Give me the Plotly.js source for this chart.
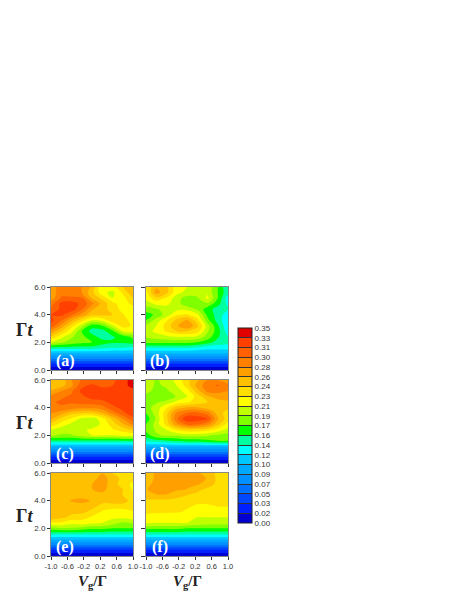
<!DOCTYPE html>
<html><head><meta charset="utf-8">
<script src="https://cdn.plot.ly/plotly-3.0.1.min.js"></script>
<style>html,body{margin:0;padding:0;background:#fff}</style></head>
<body><div id="chart" style="width:463px;height:599px"></div>
<script>
const xVals=[-1,-0.75,-0.5,-0.25,0,0.25,0.5,0.75,1];
const tVals=[0,0.4,0.8,1.2,1.6,2.0,2.4,2.8,3.2,3.6,4.0,4.4,4.8,5.2,5.6,6.0];
const low0=[.002,.002,.002,.002,.002,.002,.002,.002,.002];
const low1=[.03,.03,.03,.03,.03,.03,.03,.03,.03];
const low2=[.07,.07,.07,.07,.07,.07,.07,.07,.07];
const low3=[.105,.105,.105,.105,.105,.105,.105,.105,.105];
// rows listed from the top of each panel (t = 6.0) down to t = 1.6
const panelA=[
[.27,.29,.29,.28,.26,.21,.22,.245,.26],
[.27,.29,.29,.28,.25,.215,.205,.23,.26],
[.27,.30,.30,.30,.26,.24,.21,.22,.245],
[.29,.32,.325,.31,.285,.255,.235,.215,.235],
[.30,.32,.325,.30,.265,.25,.24,.22,.215],
[.315,.32,.30,.275,.25,.25,.245,.23,.21],
[.32,.30,.265,.235,.21,.215,.24,.235,.22],
[.31,.275,.235,.20,.165,.175,.205,.235,.225],
[.275,.245,.215,.175,.15,.15,.17,.21,.215],
[.245,.215,.195,.18,.165,.15,.155,.165,.18],
[.21,.195,.185,.18,.175,.165,.16,.16,.165],
[.15,.15,.15,.15,.15,.145,.14,.14,.135]];
const panelB=[
[.23,.26,.25,.215,.21,.205,.205,.175,.14],
[.22,.27,.25,.215,.205,.20,.205,.175,.145],
[.215,.24,.225,.20,.185,.19,.215,.175,.13],
[.20,.215,.215,.20,.18,.175,.19,.165,.135],
[.185,.19,.20,.205,.205,.19,.165,.15,.14],
[.165,.18,.20,.225,.23,.215,.17,.15,.13],
[.175,.20,.225,.25,.265,.235,.18,.15,.125],
[.195,.21,.235,.26,.28,.25,.20,.16,.125],
[.20,.215,.23,.245,.245,.235,.195,.165,.13],
[.195,.20,.205,.21,.21,.205,.185,.16,.14],
[.18,.18,.18,.18,.18,.175,.165,.15,.145],
[.14,.14,.14,.14,.14,.135,.13,.13,.13]];
const panelC=[
[.25,.25,.28,.30,.30,.30,.31,.325,.34],
[.25,.255,.275,.31,.32,.31,.315,.325,.34],
[.265,.28,.295,.32,.325,.325,.32,.32,.325],
[.285,.295,.30,.31,.325,.325,.325,.325,.325],
[.295,.30,.30,.305,.305,.31,.32,.325,.325],
[.295,.295,.29,.285,.285,.29,.31,.32,.325],
[.28,.27,.25,.245,.245,.26,.285,.31,.325],
[.265,.24,.225,.205,.20,.22,.25,.28,.31],
[.24,.22,.205,.195,.195,.215,.235,.26,.285],
[.21,.20,.205,.205,.215,.225,.225,.235,.25],
[.195,.19,.19,.20,.21,.21,.21,.215,.215],
[.155,.155,.155,.155,.155,.155,.155,.155,.155]];
const panelD=[
[.205,.19,.20,.215,.24,.26,.28,.28,.27],
[.20,.19,.195,.21,.235,.27,.29,.30,.285],
[.195,.19,.19,.20,.22,.255,.285,.285,.28],
[.19,.185,.175,.195,.21,.235,.26,.27,.27],
[.19,.19,.20,.215,.225,.235,.245,.255,.26],
[.185,.20,.225,.255,.265,.265,.255,.25,.25],
[.175,.20,.24,.285,.30,.305,.29,.255,.235],
[.165,.195,.24,.295,.33,.325,.315,.265,.235],
[.175,.20,.235,.275,.30,.30,.285,.25,.22],
[.18,.195,.21,.23,.24,.24,.235,.22,.205],
[.165,.19,.195,.195,.20,.20,.195,.19,.185],
[.145,.15,.155,.16,.165,.165,.17,.175,.175]];
const panelE=[
[.25,.25,.25,.25,.25,.262,.245,.24,.24],
[.25,.25,.25,.25,.255,.27,.255,.24,.235],
[.25,.25,.25,.25,.262,.275,.25,.24,.222],
[.25,.25,.25,.25,.262,.27,.25,.245,.225],
[.25,.25,.25,.25,.255,.255,.25,.245,.235],
[.25,.25,.265,.272,.26,.25,.25,.25,.24],
[.255,.25,.25,.25,.25,.24,.24,.24,.24],
[.25,.25,.25,.25,.24,.225,.215,.215,.225],
[.262,.25,.24,.235,.225,.215,.215,.215,.22],
[.225,.225,.215,.22,.215,.21,.20,.19,.195],
[.185,.19,.19,.185,.18,.18,.175,.175,.175],
[.145,.145,.145,.145,.145,.145,.145,.145,.145]];
const panelF=[
[.255,.265,.265,.265,.265,.265,.255,.24,.235],
[.255,.265,.265,.265,.265,.265,.262,.24,.235],
[.26,.265,.265,.265,.265,.265,.255,.24,.24],
[.262,.265,.265,.265,.262,.25,.24,.24,.24],
[.262,.262,.262,.25,.245,.24,.24,.24,.24],
[.24,.24,.24,.24,.235,.232,.232,.235,.235],
[.24,.24,.235,.235,.23,.225,.225,.228,.228],
[.232,.23,.23,.23,.225,.215,.215,.22,.22],
[.22,.22,.215,.215,.215,.21,.21,.21,.21],
[.215,.21,.21,.21,.21,.205,.20,.20,.20],
[.18,.18,.18,.18,.175,.175,.175,.175,.175],
[.145,.145,.145,.145,.145,.145,.145,.145,.145]];
const bandColors=['#0000d0','#0020ff','#0048ff','#0070ff','#0090ff','#00a8ff','#00c8ff','#00ffff','#00ffa0','#00ff00','#80ff00','#c0ff00','#ffff00','#ffdf00','#ffc000','#ffa000','#ff8000','#ff6000','#ff4000','#e00000'];
const barLabels=['0.00','0.02','0.03','0.05','0.07','0.09','0.10','0.12','0.14','0.16','0.17','0.19','0.21','0.23','0.24','0.26','0.28','0.30','0.31','0.33','0.35'];
const panelTags=['(a)','(b)','(c)','(d)','(e)','(f)'];
const panels=[panelA,panelB,panelC,panelD,panelE,panelF];
const xTicks=[-1,-0.6,-0.2,0.2,0.6,1];
const xTickText=['-1.0','-0.6','-0.2','0.2','0.6','1.0'];
const yTicks=[0,2,4,6];
const yTickText=['0.0','2.0','4.0','6.0'];
const W=463,H=599,step=0.0175;
const colLeft=[51,146],rowTop=[287,380,473],pw=82,ph=83;
const scale=[];bandColors.forEach((c,i)=>{scale.push([i/20,c]);scale.push([(i+1)/20,c]);});
const traces=[],layout={width:W,height:H,margin:{l:0,r:0,t:0,b:0},paper_bgcolor:'#fff',plot_bgcolor:'#fff',showlegend:false,
 font:{family:'Liberation Sans',size:8,color:'#222'},annotations:[]};
panels.forEach((p,i)=>{
 const c=i%2,r=Math.floor(i/2),n=i+1,s=n===1?'':n;
 const z=[low0,low1,low2,low3].concat(p.slice().reverse());
 const tr={type:'contour',x:xVals,y:tVals,z:z,xaxis:'x'+s,yaxis:'y'+s,zmin:0,zmax:.3501,autocontour:false,
  contours:{start:0,end:.35,size:step,coloring:'fill',showlines:false},line:{width:0,smoothing:1},colorscale:scale,showscale:i===0,hoverinfo:'skip'};
 if(i===0)tr.colorbar={x:238/W,xanchor:'left',xpad:0,ypad:0,thickness:14,thicknessmode:'pixels',len:195,lenmode:'pixels',
   y:1-425.5/H,yanchor:'middle',outlinecolor:'#222',outlinewidth:1,ticks:'inside',ticklen:14,tickwidth:1,tickcolor:'#333',
   tickmode:'array',tickvals:barLabels.map((_,k)=>k*step),ticktext:barLabels,tickfont:{size:8,color:'#333',family:'Liberation Sans'}};
 traces.push(tr);
 layout['xaxis'+s]={domain:[colLeft[c]/W,(colLeft[c]+pw)/W],range:[-1,1],anchor:'y'+s,tickmode:'array',tickvals:xTicks,ticktext:xTickText,
  showticklabels:r===2,ticks:'outside',ticklen:3,tickcolor:'#333',showgrid:false,zeroline:false,
  showline:true,linecolor:'#888',mirror:true,tickfont:{size:7.5,color:'#333'}};
 layout['yaxis'+s]={domain:[1-(rowTop[r]+ph)/H,1-rowTop[r]/H],range:[0,6],anchor:'x'+s,tickmode:'array',tickvals:yTicks,ticktext:yTickText,
  showticklabels:c===0,ticks:'outside',ticklen:c===0?3:4,tickcolor:'#333',showgrid:false,zeroline:false,
  showline:true,linecolor:'#888',mirror:true,tickfont:{size:8,color:'#333'}};
 layout.annotations.push({xref:'paper',yref:'paper',x:(colLeft[c]+14)/W,y:1-(rowTop[r]+74)/H,text:'<b>'+panelTags[i]+'</b>',showarrow:false,
  font:{family:'Liberation Serif',size:16,color:'#fff'},xanchor:'center',yanchor:'middle'});
 if(c===0)layout.annotations.push({xref:'paper',yref:'paper',x:24/W,y:1-(rowTop[r]+43)/H,text:'<b>Γ<i>t</i></b>',showarrow:false,
  font:{family:'Liberation Serif',size:18,color:'#222'},xanchor:'center',yanchor:'middle'});
 if(r===2)layout.annotations.push({xref:'paper',yref:'paper',x:(colLeft[c]+41)/W,y:1-582/H,text:'<b><i>V</i><sub>g</sub>/Γ</b>',showarrow:false,
  font:{family:'Liberation Serif',size:15,color:'#222'},xanchor:'center',yanchor:'middle'});
});
Plotly.newPlot('chart',traces,layout,{displayModeBar:false,staticPlot:true});
</script></body></html>
